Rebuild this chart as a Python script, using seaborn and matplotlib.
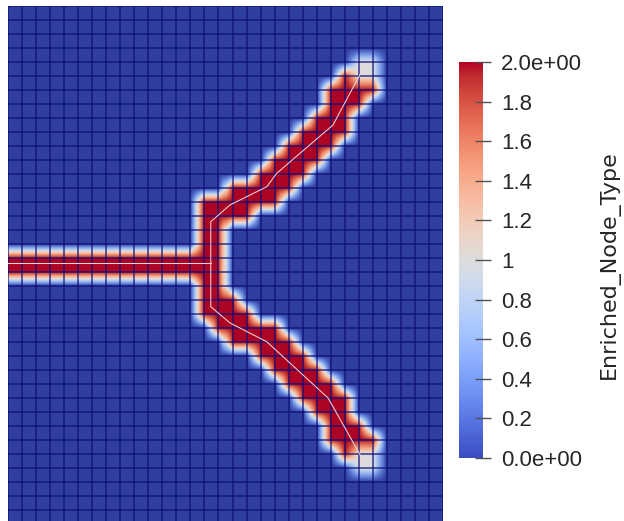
import numpy as np
import matplotlib
matplotlib.use("Agg")
import matplotlib.pyplot as plt
from matplotlib.colors import ListedColormap, Normalize
from matplotlib.cm import ScalarMappable
import seaborn as sns

# Enriched_Node_Type at the nodes of the 31 x 37 quad mesh, top row first.
# '.' = 0 (standard node), '1' = crack tip node, '2' = split node
NODE_ROWS = [
    "........ ........ ........ ........",  # 0
    "........ ........ ........ ........",
    "........ ........ ........ ........",
    "........ ........ ........ ........",
    "........ ........ ........ .11.....",  # 4
    "........ ........ ........ 211.....",
    "........ ........ .......2 222.....",
    "........ ........ .......2 22......",
    "........ ........ ......22 2.......",  # 8
    "........ ........ .....222 2.......",
    "........ ........ ....2222 ........",
    "........ ........ ...2222. ........",
    "........ ........ ..2222.. ........",  # 12
    "........ ........ 22222... ........",
    "........ ......22 2222.... ........",
    "........ ......22 22...... ........",
    "........ ......22 ........ ........",  # 16
    "........ ......22 ........ ........",
    "22222222 22222222 ........ ........",
    "22222222 22222222 ........ ........",
    "........ ......22 ........ ........",  # 20
    "........ ......22 2....... ........",
    "........ ......22 22...... ........",
    "........ .......2 2222.... ........",
    "........ ........ 22222... ........",  # 24
    "........ ........ ..2222.. ........",
    "........ ........ ...2222. ........",
    "........ ........ ....2222 ........",
    "........ ........ .....222 2.......",  # 28
    "........ ........ ......22 2.......",
    "........ ........ .......2 22......",
    "........ ........ .......2 222.....",
    "........ ........ ........ 211.....",  # 32
    "........ ........ ........ .11.....",
    "........ ........ ........ ........",
    "........ ........ ........ ........",
    "........ ........ ........ ........",  # 36
    "........ ........ ........ ........",
]

# crack path in mesh units (x to the right, y downwards)
crack_left_x = [0.0, 14.45]
crack_left_y = [18.39, 18.39]
crack_up_x = [14.45, 14.45, 15.82, 18.44, 19.15, 23.16, 25.32]
crack_up_y = [18.39, 15.41, 14.21, 12.91, 11.95, 8.50, 4.45]
crack_low_x = [14.45, 14.45, 15.82, 18.44, 22.81, 25.30]
crack_low_y = [18.39, 21.48, 22.64, 23.98, 28.00, 32.43]

cbar_ticks = [0.0, 0.2, 0.4, 0.6, 0.8, 1.0, 1.2, 1.4, 1.6, 1.8, 2.0]
cbar_labels = ["0.0e+00", "0.2", "0.4", "0.6", "0.8", "1",
               "1.2", "1.4", "1.6", "1.8", "2.0e+00"]

code = {".": 0.0, "1": 1.0, "2": 2.0}
field = np.array([[code[c] for c in r.replace(" ", "")] for r in NODE_ROWS])
n_ny, n_nx = field.shape
cells_x, cells_y = n_nx - 1, n_ny - 1

# nodal values smeared over the quads (like the Gouraud shading of the render)
F = 14
xs = (np.arange(cells_x * F) + 0.5) / F
ys = (np.arange(cells_y * F) + 0.5) / F
tmp = np.array([np.interp(xs, np.arange(n_nx), r) for r in field])
fine = np.array([np.interp(ys, np.arange(n_ny), c) for c in tmp.T]).T

# surface colours a bit darker than the bar (lighting of the 3D view)
base = plt.get_cmap("coolwarm")
lv = np.linspace(0, 1, 256)
cols = base(lv)
cols[:, :3] *= np.interp(lv, [0, 0.5, 1], [0.82, 1.0, 0.95])[:, None]
field_cmap = ListedColormap(cols)

fig = plt.figure(figsize=(6.24, 5.21), dpi=100)
ax = fig.add_axes([8 / 624, -3 / 521, 435 / 624, 518 / 521])
sns.heatmap(fine, ax=ax, cmap=field_cmap, vmin=0, vmax=2, cbar=False,
            xticklabels=False, yticklabels=False)

edge = "#0e0e78"
ax.vlines(np.arange(n_nx) * F, 0, cells_y * F, colors=edge, lw=1.15, alpha=0.78)
ax.hlines(np.arange(n_ny) * F, 0, cells_x * F, colors=edge, lw=1.15, alpha=0.78)

for cx, cy in [(crack_left_x, crack_left_y), (crack_up_x, crack_up_y),
               (crack_low_x, crack_low_y)]:
    ax.plot(np.array(cx) * F, np.array(cy) * F, color="#f3d3da", lw=0.75)

ax.set_xlim(0, cells_x * F)
ax.set_ylim(cells_y * F, 0)
ax.set_axis_off()

cax = fig.add_axes([459 / 624, 1 - 458 / 521, 24 / 624, 396 / 521])
cb = fig.colorbar(ScalarMappable(Normalize(0, 2), cmap="coolwarm"), cax=cax,
                  ticks=cbar_ticks)
cb.outline.set_visible(False)
cb.set_ticklabels(cbar_labels)
cax.tick_params(direction="inout", length=12, width=1.0, color="#505050",
                pad=7, labelsize=16, labelcolor="#262626")
for t in cax.get_yticklabels():
    t.set_fontfamily("Liberation Sans")

fig.text(0.976, 0.4914, "Enriched_Node_Type", rotation=90, ha="center",
         va="center", fontsize=16, family="DejaVu Sans", color="#262626")

fig.savefig("out.png", dpi=100)
